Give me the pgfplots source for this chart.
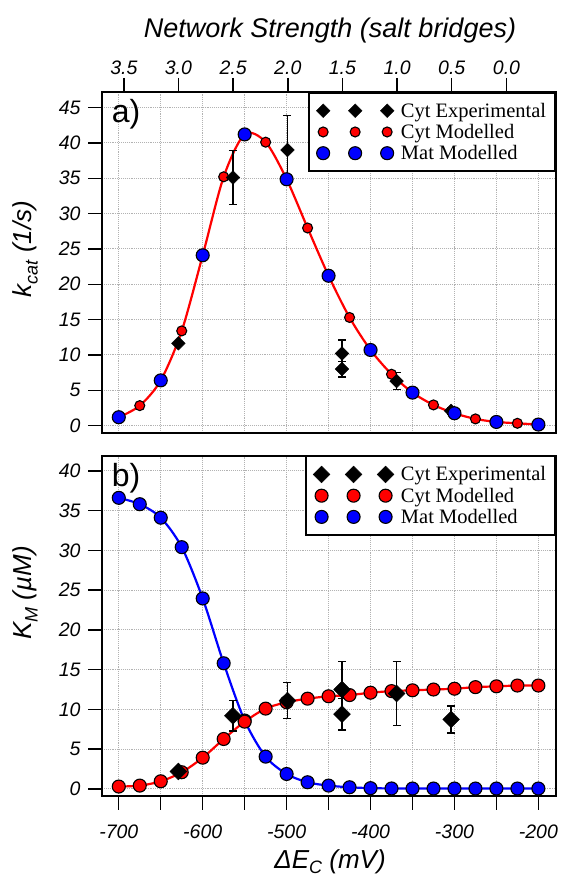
\documentclass[border=0pt]{standalone}
\usepackage{fontspec}
\setmainfont{Liberation Sans}
\newfontfamily\legfont{Liberation Serif}
\usepackage{pgfplots}
\pgfplotsset{compat=1.18}
\pgfplotsset{
  threemark/.style={legend image code/.code={\draw[mark repeat=1,mark phase=1,##1] plot coordinates {(0pt,0pt) (32pt,0pt) (64pt,0pt)};}},
  panel/.style={
    scale only axis, width=454pt, xmin=-720, xmax=-179, enlargelimits=false, clip=false,
    axis line style={line width=1.8pt},
    tick align=outside, major tick length=14pt,
    tick style={line width=1.4pt, black},
    ytick pos=left,
    grid=major,
    major grid style={line width=0.9pt, black!30, densely dotted},
    /pgf/number format/assume math mode=true,
    tick label style={font=\fontsize{19.5}{20}\selectfont\itshape},
    yticklabel style={xshift=-4pt},
    legend style={at={(1,1)}, anchor=north east, draw=black, line width=1.8pt,
      font=\legfont\fontsize{20.5}{21}\selectfont, legend cell align=left,
      inner xsep=7pt, inner ysep=8pt, row sep=1.5pt,
      /tikz/every odd column/.append style={column sep=5pt}},
  },
  expstyle/.style={only marks, mark=square*, black,
    mark options={rotate=45, fill=black, draw=black, line width=0.5pt},
    /pgfplots/error bars/y dir=both, /pgfplots/error bars/y explicit,
    /pgfplots/error bars/error bar style={line width=1.4pt, black},
    /pgfplots/error bars/error mark options={rotate=90, mark size=4pt, line width=1.4pt, black}},
}
\begin{document}
\begin{tikzpicture}
\path[use as bounding box] (0pt,0pt) rectangle (560pt,877pt);

% ---------------- panel a ----------------
\begin{axis}[panel, at={(102pt,444.3pt)}, anchor=south west, height=340.7pt,
  ymin=-1.0, ymax=47.2, xtick={-700,-650,...,-200}, xticklabels={},
  xtick style={draw=none}, ytick={0,5,...,45}]
\addplot[red, line width=2.2pt, smooth, forget plot] coordinates {
(-700,1.19) (-675,2.83) (-650,6.4) (-625,13.4) (-600,24.1) (-575,35.2)
(-550,41.2) (-525,40.1) (-500,34.85) (-475,27.96) (-450,21.2) (-425,15.3)
(-400,10.7) (-375,7.27) (-350,4.67) (-325,2.93) (-300,1.75) (-275,0.95)
(-250,0.52) (-225,0.33) (-200,0.15)};
\addplot[only marks, mark=*, mark size=5pt, mark options={fill=red, draw=black, line width=1.1pt}, forget plot] coordinates {
(-675,2.83) (-625,13.4) (-575,35.2) (-525,40.1) (-475,27.96) (-425,15.3)
(-375,7.27) (-325,2.93) (-275,0.95) (-225,0.33)};
\addplot[mark size=4.8pt, threemark, expstyle] coordinates {
(-629,11.65) +- (0,0)
(-564,35.1) +- (0,3.8)
(-499,39.0) +- (0,4.9)
(-434,10.2) +- (0,1.9)
(-434,8.0) +- (0,1.1)
(-369,6.3) +- (0,1.2)
(-304,2.08) +- (0,0.5)};
\addlegendentry{Cyt Experimental}
\addlegendimage{only marks, mark=*, mark size=5pt, mark options={fill=red, draw=black, line width=1.1pt}, threemark}
\addlegendentry{Cyt Modelled}
\addplot[only marks, mark=*, mark size=6.5pt, mark options={fill=blue, draw=black, line width=1.1pt}, threemark] coordinates {
(-700,1.19) (-650,6.4) (-600,24.1) (-550,41.2) (-500,34.85) (-450,21.2)
(-400,10.7) (-350,4.67) (-300,1.75) (-250,0.52) (-200,0.15)};
\addlegendentry{Mat Modelled}
\end{axis}

% ---------------- top axis ----------------
\begin{axis}[scale only axis, at={(102pt,444.3pt)}, anchor=south west, width=454pt, height=340.7pt,
  xmin=-720, xmax=-179, ymin=0, ymax=1, enlargelimits=false,
  axis x line*=top, axis y line=none,
  xtick={-694,-629,-563.8,-498.6,-433.5,-368.3,-303.2,-238},
  xticklabels={3.5,3.0,2.5,2.0,1.5,1.0,0.5,0.0},
  tick align=outside, major tick length=14pt, tick style={line width=1.4pt, black},
  axis line style={line width=1.8pt},
  tick label style={font=\fontsize{19.5}{20}\selectfont\itshape}]
\addplot[draw=none] coordinates {(-700,0.5)};
\end{axis}

% ---------------- panel b ----------------
\begin{axis}[panel, at={(102pt,81.3pt)}, anchor=south west, height=340pt,
  ymin=-0.85, ymax=41.9, xtick={-700,-650,...,-200},
  xticklabels={-700,,-600,,-500,,-400,,-300,,-200}, xtick pos=left,
  xticklabel style={yshift=-12pt},
  ytick={0,5,...,40}]
\addplot[blue, line width=2.2pt, smooth, forget plot] coordinates {
(-700,36.6) (-675,35.8) (-650,34.1) (-625,30.4) (-600,23.95) (-575,15.8)
(-550,8.6) (-525,4.06) (-500,1.88) (-475,0.84) (-450,0.42) (-425,0.21)
(-400,0.1) (-375,0.06) (-350,0.05) (-325,0.05) (-300,0.05) (-275,0.05)
(-250,0.05) (-225,0.05) (-200,0.05)};
\addplot[red, line width=2.2pt, smooth, forget plot] coordinates {
(-700,0.3) (-675,0.42) (-650,0.96) (-625,2.1) (-600,3.93) (-575,6.28)
(-550,8.46) (-525,10.1) (-500,10.9) (-475,11.35) (-450,11.65) (-425,11.8)
(-400,12.1) (-375,12.3) (-350,12.4) (-325,12.5) (-300,12.6) (-275,12.8)
(-250,12.9) (-225,13.0) (-200,13.0)};
\addplot[only marks, mark=*, mark size=6.5pt, mark options={fill=blue, draw=black, line width=1.1pt}, forget plot] coordinates {
(-700,36.6) (-675,35.8) (-650,34.1) (-625,30.4) (-600,23.95) (-575,15.8)
(-550,8.6) (-525,4.06) (-500,1.88) (-475,0.84) (-450,0.42) (-425,0.21)
(-400,0.1) (-375,0.06) (-350,0.05) (-325,0.05) (-300,0.05) (-275,0.05)
(-250,0.05) (-225,0.05) (-200,0.05)};
\addplot[only marks, mark=*, mark size=6.5pt, mark options={fill=red, draw=black, line width=1.1pt}, forget plot] coordinates {
(-700,0.3) (-675,0.42) (-650,0.96) (-625,2.1) (-600,3.93) (-575,6.28)
(-550,8.46) (-525,10.1) (-500,10.9) (-475,11.35) (-450,11.65) (-425,11.8)
(-400,12.1) (-375,12.3) (-350,12.4) (-325,12.5) (-300,12.6) (-275,12.8)
(-250,12.9) (-225,13.0) (-200,13.0)};
\addplot[mark size=5.9pt, threemark, expstyle] coordinates {
(-629,2.2) +- (0,0)
(-564,9.2) +- (0,1.9)
(-499,11.1) +- (0,2.25)
(-434,12.5) +- (0,3.5)
(-434,9.4) +- (0,2.0)
(-369,12.0) +- (0,4.0)
(-304,8.75) +- (0,1.7)};
\addlegendentry{Cyt Experimental}
\addlegendimage{only marks, mark=*, mark size=6.5pt, mark options={fill=red, draw=black, line width=1.1pt}, threemark}
\addlegendentry{Cyt Modelled}
\addlegendimage{only marks, mark=*, mark size=6.5pt, mark options={fill=blue, draw=black, line width=1.1pt}, threemark}
\addlegendentry{Mat Modelled}
\end{axis}

% ---------------- labels ----------------
\node[font=\fontsize{27}{28}\selectfont\itshape] at (330pt,846pt) {Network Strength (salt bridges)};
\node[rotate=90, font=\fontsize{26}{28}\selectfont\itshape] at (25pt,628pt)
  {k\raisebox{-0.25em}{\fontsize{18}{18}\selectfont cat} (1/s)};
\node[rotate=90, font=\fontsize{26}{28}\selectfont\itshape] at (25pt,284pt)
  {K\raisebox{-0.25em}{\fontsize{18}{18}\selectfont M} (µM)};
\node[anchor=base, font=\fontsize{26}{28}\selectfont\itshape] at (330pt,9pt)
  {ΔE\raisebox{-0.2em}{\fontsize{18}{18}\selectfont C} (mV)};
\node[font=\fontsize{32}{32}\selectfont] at (126pt,763pt) {a)};
\node[font=\fontsize{32}{32}\selectfont] at (126pt,399pt) {b)};
\end{tikzpicture}
\end{document}
